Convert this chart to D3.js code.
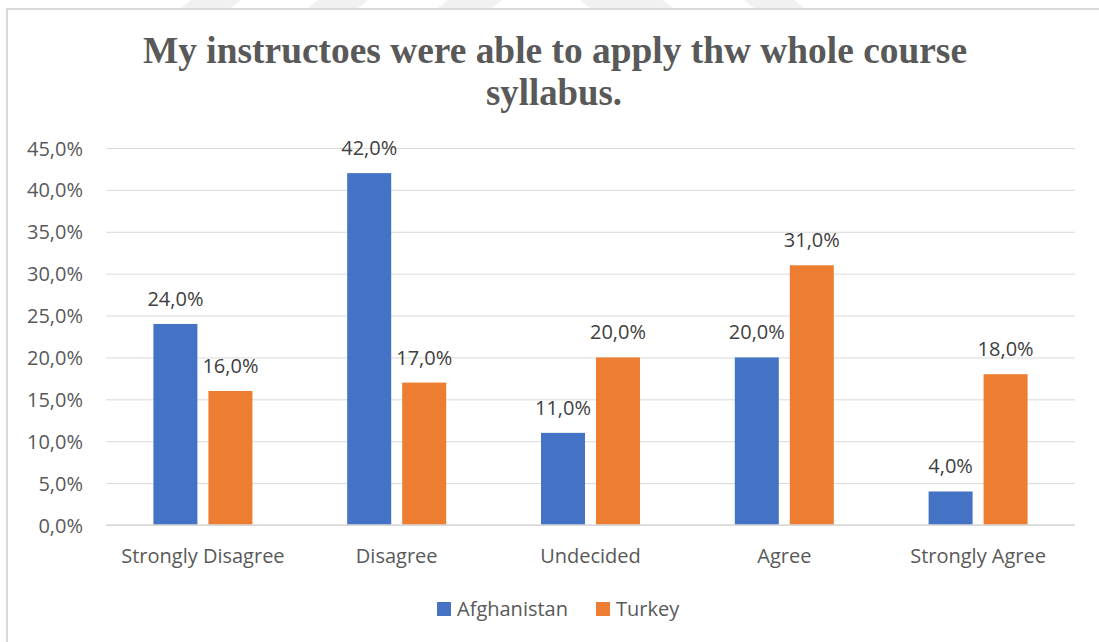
<!DOCTYPE html>
<html>
<head>
<meta charset="utf-8">
<script src="https://cdn.jsdelivr.net/npm/d3@7"></script>
<style>
  html, body { margin: 0; padding: 0; background: #fff; }
  svg { display: block; }
</style>
</head>
<body>
<svg id="chart" width="1099" height="642"></svg>
<script>
// Response categories and share of respondents per country (%)
const categories = ["Strongly Disagree", "Disagree", "Undecided", "Agree", "Strongly Agree"];
const afghanistan = [24.0, 42.0, 11.0, 20.0, 4.0];
const turkey = [16.0, 17.0, 20.0, 31.0, 18.0];
const seriesNames = ["Afghanistan", "Turkey"];
const seriesColors = ["#4472C4", "#ED7D31"];
const yTicks = [0, 5, 10, 15, 20, 25, 30, 35, 40, 45];
const titleLines = ["My instructoes were able to apply thw whole course", "syllabus."];

const fmt = v => v.toFixed(1).replace(".", ",") + "%";

const svg = d3.select("#chart");
const W = 1099, H = 642;
const plot = { left: 106, right: 1075, top: 148, bottom: 525 };

// faint page watermark strips along the top edge
const wm = svg.append("g").attr("fill", "#f1f1f1");
[[186, 236, 1], [313, 363, 1], [443, 497, 1], [585, 668, -1], [749, 799, -1]].forEach(([a, b, dir]) => {
  const s = 5 * dir;
  wm.append("polygon").attr("points", `${a + s},0 ${b + s},0 ${b - s},8 ${a - s},8`);
});

// chart frame
svg.append("path")
  .attr("d", `M7,${H} L7,9 L${W},9`)
  .attr("fill", "none").attr("stroke", "#d9d9d9").attr("stroke-width", 2);

// title
const title = svg.append("text")
  .attr("font-family", "'Liberation Serif', 'Times New Roman', serif")
  .attr("font-weight", "bold").attr("font-size", 37).attr("fill", "#595959")
  .attr("text-anchor", "middle");
title.append("tspan").attr("x", 555).attr("y", 63)
  .attr("textLength", 824).attr("lengthAdjust", "spacingAndGlyphs").text(titleLines[0]);
title.append("tspan").attr("x", 554).attr("y", 105)
  .attr("textLength", 136).attr("lengthAdjust", "spacingAndGlyphs").text(titleLines[1]);

// scales
const x0 = d3.scaleBand().domain(categories).range([plot.left, plot.right]);
const x1 = d3.scaleBand().domain(seriesNames).range([-27.5 - 22, 27.5 + 22]).paddingInner(0.2);
const y = d3.scaleLinear().domain([0, 45]).range([plot.bottom, plot.top]);

const font = "'Open Sans', Lato, sans-serif";
const fs = 20;

// gridlines + y labels
const yAxis = svg.append("g")
  .call(d3.axisLeft(y).tickValues(yTicks).tickSize(-(plot.right - plot.left)).tickFormat(fmt))
  .attr("transform", `translate(${plot.left},0)`);
yAxis.select(".domain").remove();
yAxis.selectAll(".tick line").attr("stroke", "#d9d9d9").attr("stroke-width", 1);
yAxis.selectAll(".tick text")
  .attr("x", -23).attr("dy", "0.35em")
  .attr("font-family", font).attr("font-size", fs).attr("fill", "#595959");

// bars
const data = categories.map((c, i) => ({ c, vals: [afghanistan[i], turkey[i]] }));
const groups = svg.append("g").selectAll("g").data(data).join("g")
  .attr("transform", d => `translate(${x0(d.c) + x0.bandwidth() / 2},0)`);

groups.selectAll("rect")
  .data(d => d.vals.map((v, j) => ({ v, s: seriesNames[j], j })))
  .join("rect")
  .attr("x", d => x1(d.s))
  .attr("width", x1.bandwidth())
  .attr("y", d => y(d.v))
  .attr("height", d => y(0) - y(d.v))
  .attr("fill", d => seriesColors[d.j]);

groups.selectAll("text.lbl")
  .data(d => d.vals.map((v, j) => ({ v, s: seriesNames[j], j })))
  .join("text").attr("class", "lbl")
  .attr("x", d => x1(d.s) + x1.bandwidth() / 2)
  .attr("y", d => y(d.v) - 18)
  .attr("text-anchor", "middle")
  .attr("font-family", font).attr("font-size", fs).attr("fill", "#404040")
  .text(d => fmt(d.v));

// baseline
svg.append("line")
  .attr("x1", plot.left).attr("x2", plot.right)
  .attr("y1", y(0)).attr("y2", y(0))
  .attr("stroke", "#d9d9d9").attr("stroke-width", 1.5);

// category labels
const xAxis = svg.append("g")
  .attr("transform", `translate(0,${plot.bottom})`)
  .call(d3.axisBottom(x0).tickSize(0).tickPadding(0));
xAxis.select(".domain").remove();
xAxis.selectAll(".tick text")
  .attr("y", 38).attr("dy", 0)
  .attr("font-family", font).attr("font-size", fs).attr("fill", "#595959");

// legend
const legendX = [437, 596];
const legend = svg.append("g").selectAll("g").data(seriesNames).join("g")
  .attr("transform", (d, i) => `translate(${legendX[i]},602)`);
legend.append("rect").attr("width", 14).attr("height", 14)
  .attr("fill", (d, i) => seriesColors[i]);
legend.append("text").attr("x", 20).attr("y", 14)
  .attr("font-family", font).attr("font-size", fs).attr("fill", "#595959")
  .text(d => d);
</script>
</body>
</html>
